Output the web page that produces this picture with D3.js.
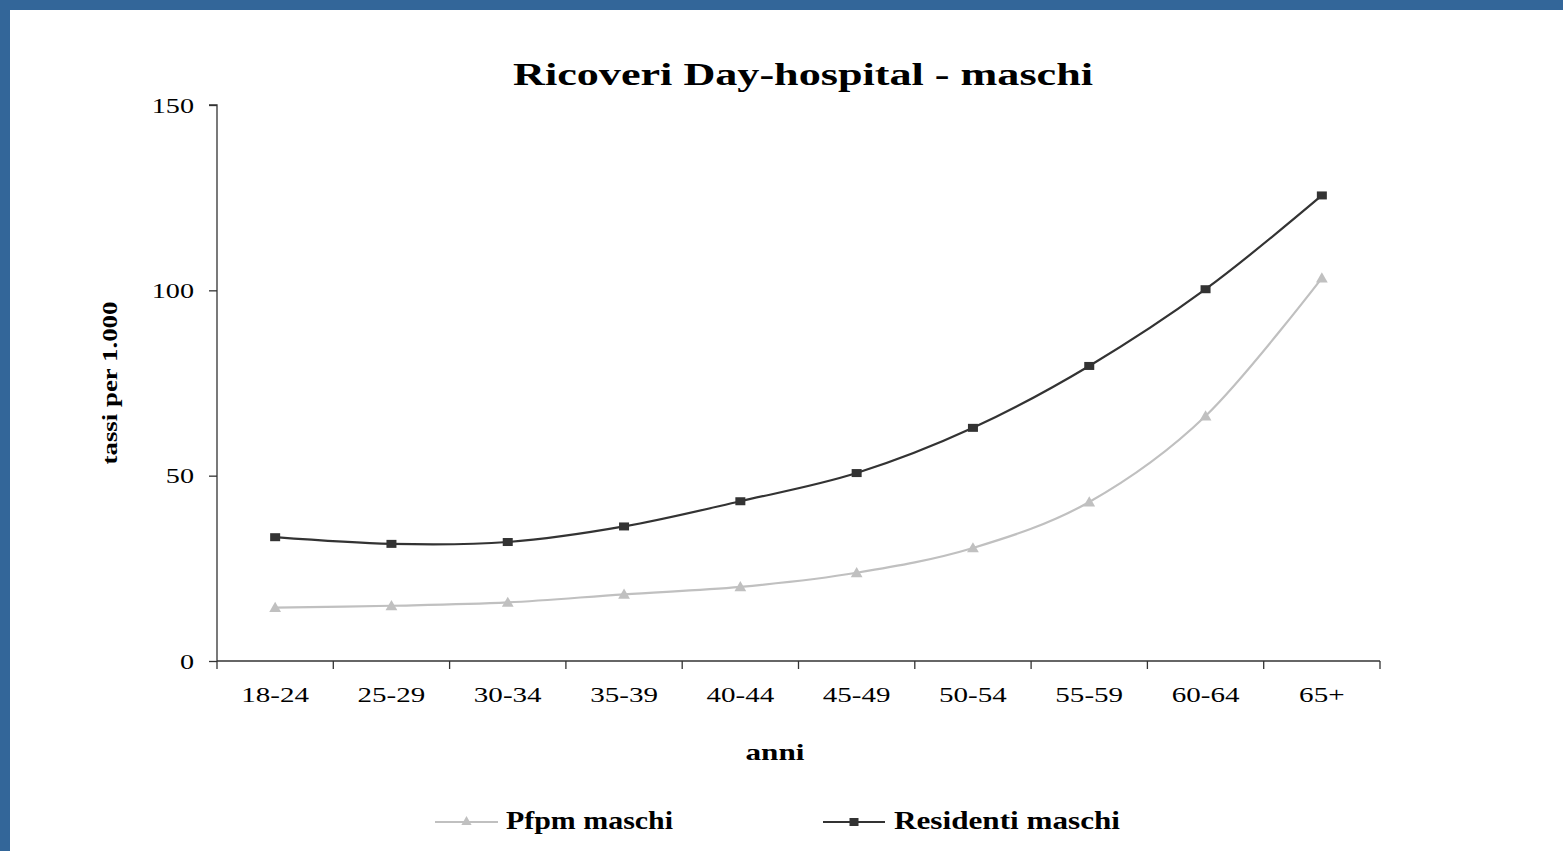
<!DOCTYPE html>
<html>
<head>
<meta charset="utf-8">
<script src="https://cdn.jsdelivr.net/npm/d3@7"></script>
<style>
  html, body { margin: 0; padding: 0; background: #fff; }
  svg { display: block; }
  text { font-family: "Liberation Serif", "Times New Roman", serif; fill: #000; }
</style>
</head>
<body>
<svg id="chart" width="1563" height="851"></svg>
<script>
const categories = ["18-24", "25-29", "30-34", "35-39", "40-44", "45-49", "50-54", "55-59", "60-64", "65+"];
const pfpmMaschi = [14.4, 14.9, 15.8, 18.0, 20.0, 23.8, 30.5, 42.9, 66.1, 103.3];
const residentiMaschi = [33.4, 31.6, 32.1, 36.3, 43.1, 50.7, 62.9, 79.6, 100.3, 125.6];
const yTicks = [0, 50, 100, 150];
const seriesNames = ["Pfpm maschi", "Residenti maschi"];
const titleText = "Ricoveri Day-hospital - maschi";
const xTitle = "anni";
const yTitle = "tassi per 1.000";

const svg = d3.select("#chart");
const W = 1563, H = 851;

// frame
svg.append("rect").attr("x", 0).attr("y", 0).attr("width", W).attr("height", H).attr("fill", "#336699");
svg.append("rect").attr("x", 10).attr("y", 10).attr("width", W - 10).attr("height", H - 10).attr("fill", "#ffffff");

const x0 = 217, x1 = 1380, yTop = 105, yBot = 661;
const x = d3.scaleBand().domain(categories).range([x0, x1]).paddingInner(0).paddingOuter(0);
const y = d3.scaleLinear().domain([0, 150]).range([yBot, yTop]);

function stretch(sel, factor) {
  sel.each(function() {
    const len = this.getComputedTextLength();
    d3.select(this).attr("textLength", len * factor).attr("lengthAdjust", "spacingAndGlyphs");
  });
}

// Y axis
const yAxis = svg.append("g").attr("transform", `translate(${x0},0)`)
  .call(d3.axisLeft(y).tickValues(yTicks).tickSize(8).tickPadding(15).tickFormat(d3.format("d")));
yAxis.selectAll("path, line").attr("stroke", "#333").attr("stroke-width", 1.3);
yAxis.select(".domain").attr("d", `M-8,${yTop}H0V${yBot}`);
yAxis.selectAll("text").attr("font-size", 22).attr("font-family", "Liberation Serif").attr("fill", "#000").attr("dy", "0.32em");
stretch(yAxis.selectAll("text"), 1.28);

// X axis
const xAxisScale = d3.scalePoint().domain(d3.range(categories.length + 1)).range([x0, x1]);
const xAxis = svg.append("g").attr("transform", `translate(0,${yBot})`);
xAxis.append("line").attr("x1", x0).attr("x2", x1).attr("y1", 0).attr("y2", 0).attr("stroke", "#333").attr("stroke-width", 1.3);
xAxis.selectAll("line.tick").data(d3.range(categories.length + 1)).enter().append("line")
  .attr("class", "tick")
  .attr("x1", d => xAxisScale(d)).attr("x2", d => xAxisScale(d))
  .attr("y1", 0).attr("y2", 8).attr("stroke", "#333").attr("stroke-width", 1.3);
const xLabels = xAxis.selectAll("text.lbl").data(categories).enter().append("text")
  .attr("class", "lbl")
  .attr("x", d => x(d) + x.bandwidth() / 2)
  .attr("y", 41)
  .attr("text-anchor", "middle")
  .attr("font-size", 22)
  .text(d => d);
stretch(xLabels, 1.32);

// Lines
const line = d3.line()
  .x((d, i) => x(categories[i]) + x.bandwidth() / 2)
  .y(d => y(d))
  .curve(d3.curveCardinal.tension(0));

svg.append("path").datum(pfpmMaschi).attr("d", line)
  .attr("fill", "none").attr("stroke", "#c0c0c0").attr("stroke-width", 2.2);
svg.append("path").datum(residentiMaschi).attr("d", line)
  .attr("fill", "none").attr("stroke", "#333333").attr("stroke-width", 2.2);

const tri = d3.symbol().type(d3.symbolTriangle).size(60);
svg.selectAll("path.tri").data(pfpmMaschi).enter().append("path")
  .attr("class", "tri")
  .attr("d", tri)
  .attr("transform", (d, i) => `translate(${x(categories[i]) + x.bandwidth() / 2},${y(d) + 1})`)
  .attr("fill", "#c0c0c0");

svg.selectAll("rect.sq").data(residentiMaschi).enter().append("rect")
  .attr("class", "sq")
  .attr("x", (d, i) => x(categories[i]) + x.bandwidth() / 2 - 5)
  .attr("y", d => y(d) - 4)
  .attr("width", 10).attr("height", 8)
  .attr("fill", "#333333");

// Title
svg.append("text").attr("x", 803).attr("y", 85).attr("text-anchor", "middle")
  .attr("font-size", 32).attr("font-weight", "bold")
  .attr("textLength", 580).attr("lengthAdjust", "spacingAndGlyphs")
  .text(titleText);

// X title
svg.append("text").attr("x", 775).attr("y", 760).attr("text-anchor", "middle")
  .attr("font-size", 23).attr("font-weight", "bold")
  .attr("textLength", 59).attr("lengthAdjust", "spacingAndGlyphs")
  .text(xTitle);

// Y title
svg.append("text").attr("transform", "translate(117,383) rotate(-90)").attr("text-anchor", "middle")
  .attr("font-size", 21).attr("font-weight", "bold")
  .attr("textLength", 163).attr("lengthAdjust", "spacingAndGlyphs")
  .text(yTitle);

// Legend
const legY = 822;
const leg = [
  { name: seriesNames[0], lx1: 435, lx2: 498, tx: 506, tw: 167, color: "#c0c0c0", marker: "tri" },
  { name: seriesNames[1], lx1: 823, lx2: 885, tx: 894, tw: 226, color: "#333333", marker: "sq" }
];
const legTri = d3.symbol().type(d3.symbolTriangle).size(45);
leg.forEach(l => {
  svg.append("line").attr("x1", l.lx1).attr("x2", l.lx2).attr("y1", legY).attr("y2", legY)
    .attr("stroke", l.color).attr("stroke-width", 2.2);
  const cx = (l.lx1 + l.lx2) / 2;
  if (l.marker === "tri") {
    svg.append("path").attr("d", legTri).attr("transform", `translate(${cx},${legY})`).attr("fill", l.color);
  } else {
    svg.append("rect").attr("x", cx - 4.5).attr("y", legY - 4).attr("width", 9).attr("height", 8).attr("fill", l.color);
  }
  svg.append("text").attr("x", l.tx).attr("y", legY + 7)
    .attr("font-size", 25).attr("font-weight", "bold")
    .attr("textLength", l.tw).attr("lengthAdjust", "spacingAndGlyphs")
    .text(l.name);
});
</script>
</body>
</html>
